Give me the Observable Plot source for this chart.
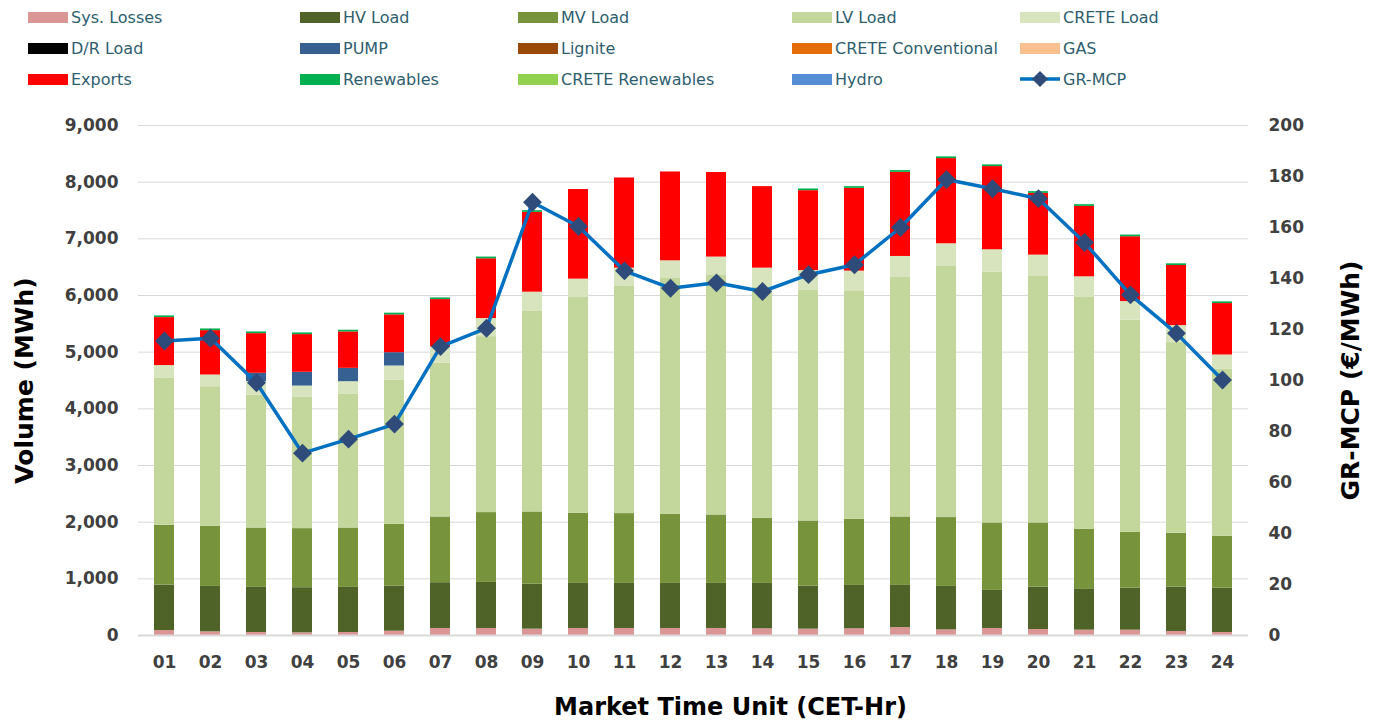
<!DOCTYPE html>
<html>
<head>
<meta charset="utf-8">
<script src="https://cdn.jsdelivr.net/npm/d3@7"></script>
<script src="https://cdn.jsdelivr.net/npm/@observablehq/plot@0.6"></script>
<style>
  html, body { margin: 0; padding: 0; background: #fff; }
  #wrap { position: relative; width: 1375px; height: 722px; overflow: hidden; font-family: "DejaVu Sans", sans-serif; }
  #legend { position: absolute; left: 0; top: 0; width: 1375px; height: 100px; }
  .item { position: absolute; display: flex; align-items: center; font-size: 16px; color: #2E5E6E; white-space: nowrap; }
  .sw { width: 40px; height: 11px; margin-right: 3px; }
  #chart { position: absolute; left: 0; top: 100px; }
  #chart svg { font-family: "DejaVu Sans", sans-serif; }
</style>
</head>
<body>
<div id="wrap">
  <div id="legend"></div>
  <div id="chart"></div>
</div>
<script>
const hours = ["01","02","03","04","05","06","07","08","09","10","11","12","13","14","15","16","17","18","19","20","21","22","23","24"];

const sysLosses   = [88,65,53,48,53,76,124,124,112,124,124,124,124,118,112,118,141,100,124,106,94,94,71,53];
const hvLoad      = [801,801,796,795,796,796,808,813,795,795,795,795,795,801,760,766,743,766,672,748,719,742,783,783];
const mvLoad      = [1056,1061,1048,1043,1048,1090,1160,1232,1273,1238,1232,1220,1208,1150,1149,1167,1208,1215,1190,1132,1061,985,949,914];
const lvLoad      = [2599,2463,2346,2316,2364,2546,2711,3105,3548,3807,4019,4161,4238,4081,4079,4031,4225,4431,4427,4349,4090,3743,3365,2953];
const creteLoad   = [220,207,237,200,218,248,290,319,331,325,313,312,313,333,340,348,372,401,394,378,366,329,301,247];
const drLoad      = [0,0,0,0,0,0,0,0,0,0,0,0,0,0,0,0,0,0,0,0,0,0,0,0];
const pump        = [0,0,147,243,236,235,0,0,0,0,0,0,0,0,0,0,0,0,0,0,0,0,0,0];
const lignite     = [0,0,0,0,0,0,0,0,0,0,0,0,0,0,0,0,0,0,0,0,0,0,0,0];
const creteConv   = [0,0,0,0,0,0,0,0,0,0,0,0,0,0,0,0,0,0,0,0,0,0,0,0];
const gas         = [0,0,0,0,0,0,0,0,0,0,0,0,0,0,0,0,0,0,0,0,0,0,0,0];
const exportsVol  = [846,783,700,665,642,667,835,1055,1408,1581,1591,1568,1492,1438,1410,1461,1485,1503,1468,1090,1243,1144,1060,908];
const renewables  = [30,30,30,30,30,30,30,30,30,0,0,0,0,0,30,30,30,30,30,30,30,30,30,30];
const creteRen    = [0,0,0,0,0,0,0,0,0,0,0,0,0,0,0,0,0,0,0,0,0,0,0,0];
const hydro       = [0,0,0,0,0,0,0,0,0,0,0,0,0,0,0,0,0,0,0,0,0,0,0,0];
const grMcp       = [115.5,116.6,99.1,71.5,77.0,82.9,113.3,120.5,169.9,160.4,143.0,136.2,138.3,134.9,141.5,145.4,160.0,178.8,175.2,171.3,154.1,133.6,118.5,100.2];

const seriesNames  = ["Sys. Losses","HV Load","MV Load","LV Load","CRETE Load","D/R Load","PUMP","Lignite","CRETE Conventional","GAS","Exports","Renewables","CRETE Renewables","Hydro"];
const seriesValues = [sysLosses,hvLoad,mvLoad,lvLoad,creteLoad,drLoad,pump,lignite,creteConv,gas,exportsVol,renewables,creteRen,hydro];
const seriesColors = ["#D99694","#4F6228","#77933C","#C3D69B","#D7E4BD","#000000","#366092","#984807","#E46C0A","#FAC090","#FF0000","#00B050","#92D050","#558ED5"];

const yTicks = [0,1000,2000,3000,4000,5000,6000,7000,8000,9000];
const mcpTicks = [0,20,40,60,80,100,120,140,160,180,200];
const lineName = "GR-MCP";

// legend layout (5 columns x 3 rows)
const legendNames = [...seriesNames, lineName];
const colX = [28, 300, 518, 792, 1020];
const rowY = [17, 48, 79];
const legend = document.getElementById("legend");
legendNames.forEach((n, i) => {
  const c = i % 5, r = Math.floor(i / 5);
  const it = document.createElement("div");
  it.className = "item";
  it.style.left = colX[c] + "px";
  it.style.top = (rowY[r] - 10) + "px";
  it.style.height = "20px";
  if (n === lineName) {
    it.innerHTML = '<svg width="40" height="20" style="margin-right:3px"><line x1="0" y1="10" x2="40" y2="10" stroke="#0070C0" stroke-width="3.5"/><path d="M20 2 L28 10 L20 18 L12 10 Z" fill="#2E4B7A"/></svg>';
  } else {
    it.innerHTML = '<div class="sw" style="background:' + seriesColors[i] + '"></div>';
  }
  const t = document.createElement("span");
  t.textContent = n;
  it.appendChild(t);
  legend.appendChild(it);
});

const table = [];
seriesNames.forEach((s, k) => {
  hours.forEach((h, i) => table.push({hour: h, series: s, value: seriesValues[k][i]}));
});
const mcpData = hours.map((h, i) => ({hour: h, mcp: grMcp[i]}));
const K = 9000 / 200;

const plot = Plot.plot({
  width: 1375,
  height: 622,
  marginLeft: 138,
  marginRight: 127,
  marginTop: 25,
  marginBottom: 87,
  x: {domain: hours, paddingInner: 0.57, paddingOuter: 0.285, axis: null},
  y: {domain: [0, 9000], axis: null},
  color: {domain: seriesNames, range: seriesColors},
  marks: [
    Plot.gridY(yTicks, {stroke: "#D9D9D9", strokeOpacity: 1, strokeWidth: 1}),
    Plot.barY(table, {x: "hour", y: "value", fill: "series", order: seriesNames}),
    Plot.ruleY([0], {stroke: "#D9D9D9", strokeWidth: 2}),
    Plot.lineY(mcpData, {x: "hour", y: d => d.mcp * K, stroke: "#0070C0", strokeWidth: 3.5}),
    Plot.dot(mcpData, {x: "hour", y: d => d.mcp * K, symbol: "diamond2", r: 8.5, fill: "#2E4B7A", stroke: "none"}),
    Plot.axisY(yTicks, {anchor: "left", tickSize: 0, tickPadding: 20, tickFormat: d3.format(","), label: null, fontSize: 17, fontWeight: "bold", color: "#404040"}),
    Plot.axisY(mcpTicks.map(v => v * K), {anchor: "right", tickSize: 0, tickPadding: 20, tickFormat: d => String(Math.round(d / K)), label: null, fontSize: 17, fontWeight: "bold", color: "#404040"}),
    Plot.axisX({tickSize: 0, tickPadding: 20, label: null, fontSize: 17, fontWeight: "bold", color: "#404040"}),
    Plot.text(["Volume (MWh)"], {frameAnchor: "left", dx: -114, rotate: -90, textAnchor: "middle", fontSize: 25, fontWeight: "bold", fill: "#000"}),
    Plot.text(["GR-MCP (€/MWh)"], {frameAnchor: "right", dx: 102, rotate: -90, textAnchor: "middle", fontSize: 25, fontWeight: "bold", fill: "#000"}),
    Plot.text(["Market Time Unit (CET-Hr)"], {frameAnchor: "bottom", dx: 37, dy: 72, lineAnchor: "middle", fontSize: 24, fontWeight: "bold", fill: "#000"})
  ]
});
document.getElementById("chart").appendChild(plot);
</script>
</body>
</html>
